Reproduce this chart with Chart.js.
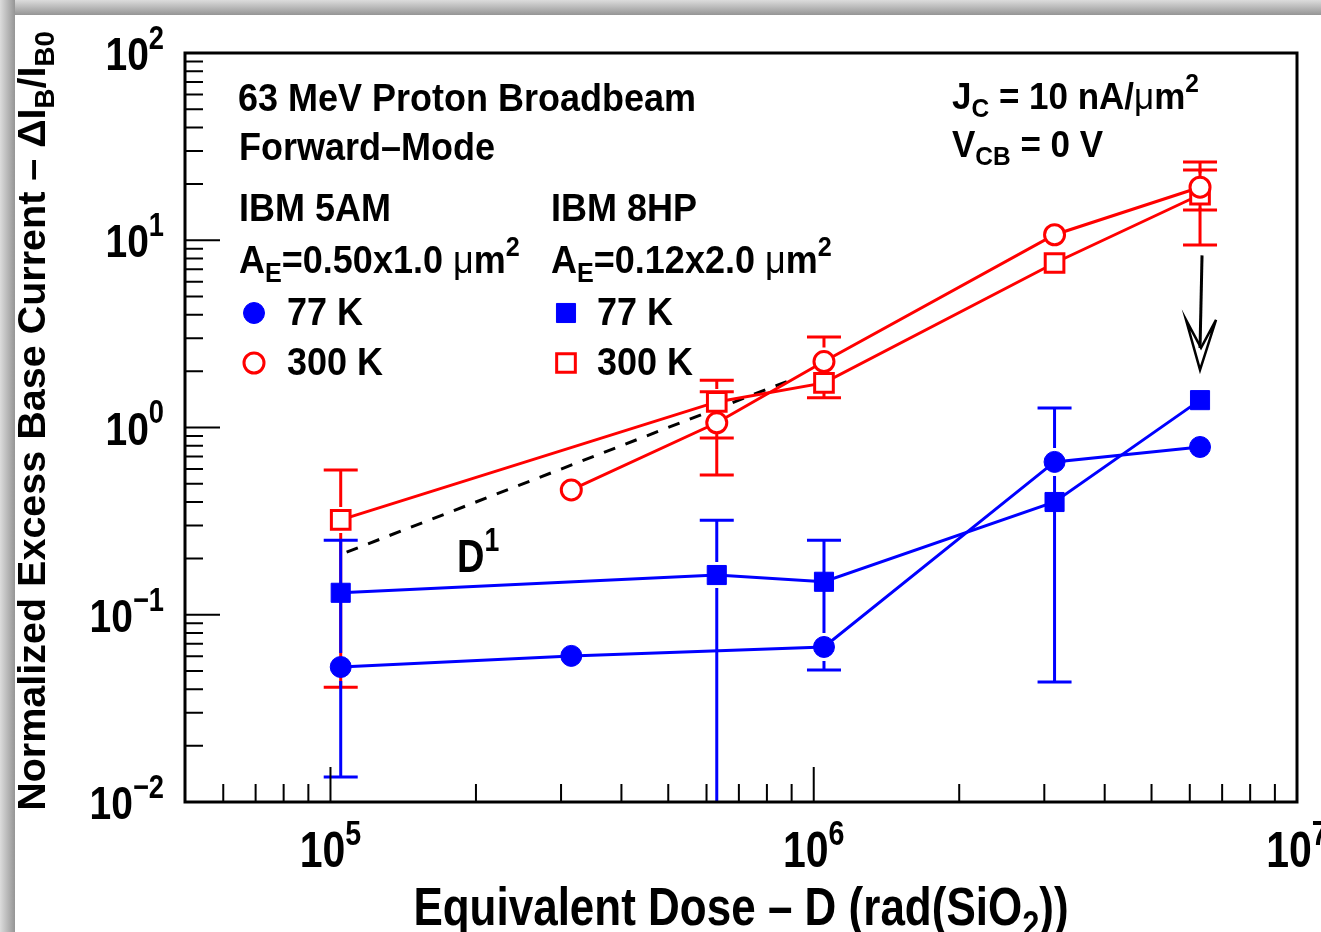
<!DOCTYPE html>
<html><head><meta charset="utf-8">
<script src="https://cdn.jsdelivr.net/npm/chart.js@4.4.0/dist/chart.umd.min.js"></script>
<style>html,body{margin:0;padding:0;background:#fff;overflow:hidden}canvas{display:block}</style>
</head><body>
<canvas id="c" width="1321" height="932"></canvas>
<script>
// ---------- data ----------
const doses5AM_77K  = [1.05e5, 3.15e5, 1.05e6, 3.15e6, 6.3e6];
const values5AM_77K = [0.0526, 0.0603, 0.0673, 0.655, 0.787];
const errLo5AM_77K  = [0.0136, null, 0.0507, 0.0437, null];
const errHi5AM_77K  = [0.25,   null, 0.25,   1.27,   null];

const doses5AM_300K  = [3.15e5, 6.3e5, 1.05e6, 3.15e6, 6.3e6];
const values5AM_300K = [0.464, 1.06, 2.25, 10.7, 19.2];
const errLo5AM_300K  = [null, 0.557, 1.44, null, 9.43];
const errHi5AM_300K  = [null, 1.55,  3.04, null, 26.2];

const doses8HP_77K  = [1.05e5, 6.3e5, 1.05e6, 3.15e6, 6.3e6];
const values8HP_77K = [0.131, 0.163, 0.150, 0.40, 1.40];
const errLo8HP_77K  = [null, 0.001, null, null, null];
const errHi8HP_77K  = [null, 0.32,  null, null, null];

const doses8HP_300K  = [1.05e5, 6.3e5, 1.05e6, 3.15e6, 6.3e6];
const values8HP_300K = [0.321, 1.37, 1.73, 7.56, 17.5];
const errLo8HP_300K  = [0.041, 0.879, null, null, 14.5];
const errHi8HP_300K  = [0.593, 1.79,  null, null, 23.7];

const guideDoses  = [1.08e5, 9.2e5];   // D^1 guide line
const guideValues = [0.216, 1.84];

const arrowDose = 6.3e6, arrowFrom = 8.3, arrowTo = 2.03;

const xMajorTicks = [1e5, 1e6, 1e7];
const xTickExp = ['5', '6', '7'];
const yMajorTicks = [1e-2, 1e-1, 1e0, 1e1, 1e2];
const yTickExp = ['\u22122', '\u22121', '0', '1', '2'];

// ---------- helpers ----------
const FONT = '"Liberation Sans", Arial, Helvetica, sans-serif';
const BLUE = '#0000ff', RED = '#ff0000';
function fontFor(k, size) {
  const s = (k === 'sub' || k === 'sup') ? size * 0.7 : size;
  const w = k === 'mu' ? 'normal' : 'bold';
  return w + ' ' + s + 'px ' + FONT;
}
function richWidth(ctx, parts, size) {
  let w = 0;
  for (const [t, k] of parts) { ctx.font = fontFor(k, size); w += ctx.measureText(t).width; }
  return w;
}
function drawRich(ctx, parts, x, y, size, align, sy, rot) {
  ctx.save();
  ctx.translate(x, y);
  if (rot) ctx.rotate(rot);
  ctx.scale(1, sy || 1);
  ctx.fillStyle = '#000';
  ctx.textAlign = 'left';
  ctx.textBaseline = 'alphabetic';
  const w = richWidth(ctx, parts, size);
  let cx = align === 'center' ? -w / 2 : (align === 'right' ? -w : 0);
  for (const [t, k] of parts) {
    ctx.font = fontFor(k, size);
    const dy = k === 'sub' ? size * 0.22 : (k === 'sup' ? -size * 0.45 : 0);
    ctx.fillText(t, cx, dy);
    cx += ctx.measureText(t).width;
  }
  ctx.restore();
}
function pts(xs, ys) { return xs.map((x, i) => ({ x: x, y: ys[i] })); }

const errorSets = [
  { xs: doses8HP_300K, ys: values8HP_300K, lo: errLo8HP_300K, hi: errHi8HP_300K, color: RED, gap: 13 },
  { xs: doses5AM_300K, ys: values5AM_300K, lo: errLo5AM_300K, hi: errHi5AM_300K, color: RED, gap: 14 },
  { xs: doses8HP_77K,  ys: values8HP_77K,  lo: errLo8HP_77K,  hi: errHi8HP_77K,  color: BLUE, gap: 13 },
  { xs: doses5AM_77K,  ys: values5AM_77K,  lo: errLo5AM_77K,  hi: errHi5AM_77K,  color: BLUE, gap: 14 }
];

const decor = {
  id: 'decor',
  beforeDraw(chart) {
    const ctx = chart.ctx;
    ctx.save();
    let g = ctx.createLinearGradient(0, 0, 0, 15);
    g.addColorStop(0, '#dcdcdc'); g.addColorStop(1, '#959595');
    ctx.fillStyle = g; ctx.fillRect(0, 0, 1321, 15);
    g = ctx.createLinearGradient(0, 0, 15, 0);
    g.addColorStop(0, '#dcdcdc'); g.addColorStop(1, '#959595');
    ctx.fillStyle = g; ctx.fillRect(0, 0, 15, 932);
    ctx.restore();
  },
  beforeDatasetsDraw(chart) {
    const ctx = chart.ctx, a = chart.chartArea;
    const X = chart.scales.x, Y = chart.scales.y;
    ctx.save();
    ctx.beginPath(); ctx.rect(a.left, a.top, a.right - a.left, a.bottom - a.top); ctx.clip();
    ctx.lineWidth = 3;
    for (const s of errorSets) {
      ctx.strokeStyle = s.color;
      s.xs.forEach((xv, i) => {
        const px = X.getPixelForValue(xv), py = Y.getPixelForValue(s.ys[i]);
        ctx.beginPath();
        if (s.hi[i] != null) {
          const ph = Y.getPixelForValue(s.hi[i]);
          ctx.moveTo(px, py - s.gap); ctx.lineTo(px, ph);
          ctx.moveTo(px - 17, ph); ctx.lineTo(px + 17, ph);
        }
        if (s.lo[i] != null) {
          const pl = Y.getPixelForValue(s.lo[i]);
          ctx.moveTo(px, py + s.gap); ctx.lineTo(px, pl);
          ctx.moveTo(px - 17, pl); ctx.lineTo(px + 17, pl);
        }
        ctx.stroke();
      });
    }
    ctx.restore();
  },
  afterDatasetsDraw(chart) {
    const ctx = chart.ctx, a = chart.chartArea;
    const X = chart.scales.x, Y = chart.scales.y;
    ctx.save();
    // frame
    ctx.strokeStyle = '#000'; ctx.lineWidth = 3;
    ctx.strokeRect(a.left, a.top, a.right - a.left, a.bottom - a.top);
    // ticks
    ctx.lineWidth = 2;
    ctx.beginPath();
    for (let e = 4; e <= 6; e++) {
      for (let m = 1; m <= 9; m++) {
        const v = m * Math.pow(10, e);
        if (v < X.min || v > X.max) continue;
        const px = X.getPixelForValue(v);
        const len = m === 1 ? 35 : 18;
        ctx.moveTo(px, a.bottom); ctx.lineTo(px, a.bottom - len);
      }
    }
    for (let e = -2; e <= 1; e++) {
      for (let m = 1; m <= 9; m++) {
        const v = m * Math.pow(10, e);
        const py = Y.getPixelForValue(v);
        const len = m === 1 ? 35 : 18;
        ctx.moveTo(a.left, py); ctx.lineTo(a.left + len, py);
      }
    }
    ctx.stroke();
    // arrow
    const ax = X.getPixelForValue(arrowDose);
    const ay1 = Y.getPixelForValue(arrowFrom), ay2 = Y.getPixelForValue(arrowTo);
    ctx.lineWidth = 3;
    ctx.beginPath(); ctx.moveTo(ax + 2, ay1); ctx.lineTo(ax, ay2 - 22); ctx.stroke();
    ctx.lineWidth = 2.5;
    ctx.beginPath();
    ctx.moveTo(ax, ay2); ctx.lineTo(ax - 14, ay2 - 50); ctx.lineTo(ax + 1, ay2 - 22);
    ctx.lineTo(ax + 16, ay2 - 50); ctx.closePath(); ctx.stroke();
    ctx.restore();

    // tick labels
    xMajorTicks.forEach((v, i) => {
      drawRich(ctx, [['10', ''], [xTickExp[i], 'sup']], X.getPixelForValue(v), 867, 41, 'center', 1.2);
    });
    yMajorTicks.forEach((v, i) => {
      drawRich(ctx, [['10', ''], [yTickExp[i], 'sup']], 164, Y.getPixelForValue(v) + 17, 39, 'right', 1.2);
    });
    // axis titles
    drawRich(ctx, [['Equivalent Dose \u2013 D (rad(SiO', ''], ['2', 'sub'], ['))', '']], 741, 925, 44, 'center', 1.2);
    drawRich(ctx, [['Normalized Excess Base Current \u2013 \u0394I', ''], ['B', 'sub'], ['/I', ''], ['B0', 'sub']],
      45, 421, 39.5, 'center', 1, -Math.PI / 2);

    // annotations
    const S = 36, K = 1.08;
    drawRich(ctx, [['63 MeV Proton Broadbeam', '']], 238, 111, S, 'left', K);
    drawRich(ctx, [['Forward\u2013Mode', '']], 239, 160, S, 'left', K);
    drawRich(ctx, [['IBM 5AM', '']], 239, 221, S, 'left', K);
    drawRich(ctx, [['IBM 8HP', '']], 551, 221, S, 'left', K);
    drawRich(ctx, [['A', ''], ['E', 'sub'], ['=0.50x1.0 ', ''], ['\u03bc', 'mu'], ['m', ''], ['2', 'sup']], 239, 273, S, 'left', K);
    drawRich(ctx, [['A', ''], ['E', 'sub'], ['=0.12x2.0 ', ''], ['\u03bc', 'mu'], ['m', ''], ['2', 'sup']], 551, 273, S, 'left', K);
    drawRich(ctx, [['77 K', '']], 287, 325, S, 'left', K);
    drawRich(ctx, [['300 K', '']], 287, 375, S, 'left', K);
    drawRich(ctx, [['77 K', '']], 597, 325, S, 'left', K);
    drawRich(ctx, [['300 K', '']], 597, 375, S, 'left', K);
    drawRich(ctx, [['J', ''], ['C', 'sub'], [' = 10 nA/', ''], ['\u03bc', 'mu'], ['m', ''], ['2', 'sup']], 952, 109, 35, 'left', K);
    drawRich(ctx, [['V', ''], ['CB', 'sub'], [' = 0 V', '']], 952, 157, 35, 'left', K);
    drawRich(ctx, [['D', ''], ['1', 'sup']], 457, 572, 38, 'left', 1.22);

    // legend markers
    const H = Chart.helpers;
    ctx.save();
    const mk = (style, r, bw, stroke, fill, x, y) => {
      ctx.strokeStyle = stroke; ctx.fillStyle = fill; ctx.lineWidth = bw;
      H.drawPoint(ctx, { pointStyle: style, radius: r, borderWidth: bw, rotation: 0 }, x, y);
    };
    mk('circle', 10.5, 1, BLUE, BLUE, 254, 313);
    mk('circle', 10, 3, RED, '#fff', 254, 363);
    mk('rect', 13.5, 1, BLUE, BLUE, 566, 313);
    mk('rect', 13.2, 3, RED, '#fff', 566, 363);
    ctx.restore();
  }
};

new Chart(document.getElementById('c'), {
  type: 'scatter',
  data: {
    datasets: [
      { label: 'IBM 8HP 77 K', data: pts(doses8HP_77K, values8HP_77K), showLine: true,
        borderColor: BLUE, backgroundColor: BLUE, borderWidth: 3,
        pointStyle: 'rect', pointRadius: 13.5, pointBorderWidth: 1, pointBackgroundColor: BLUE, pointBorderColor: BLUE },
      { label: 'IBM 5AM 77 K', data: pts(doses5AM_77K, values5AM_77K), showLine: true,
        borderColor: BLUE, backgroundColor: BLUE, borderWidth: 3,
        pointStyle: 'circle', pointRadius: 10.5, pointBorderWidth: 1, pointBackgroundColor: BLUE, pointBorderColor: BLUE },
      { label: 'IBM 5AM 300 K', data: pts(doses5AM_300K, values5AM_300K), showLine: true,
        borderColor: RED, backgroundColor: RED, borderWidth: 3,
        pointStyle: 'circle', pointRadius: 10, pointBorderWidth: 3, pointBackgroundColor: '#fff', pointBorderColor: RED },
      { label: 'IBM 8HP 300 K', data: pts(doses8HP_300K, values8HP_300K), showLine: true,
        borderColor: RED, backgroundColor: RED, borderWidth: 3,
        pointStyle: 'rect', pointRadius: 13.2, pointBorderWidth: 3, pointBackgroundColor: '#fff', pointBorderColor: RED },
      { label: 'D^1', data: pts(guideDoses, guideValues), showLine: true,
        borderColor: '#000', borderWidth: 3, borderDash: [12, 11], pointRadius: 0 }
    ]
  },
  options: {
    responsive: false,
    devicePixelRatio: 1,
    animation: false,
    events: [],
    layout: { padding: { left: 185, right: 24, top: 53, bottom: 130 } },
    scales: {
      x: { type: 'logarithmic', min: 5e4, max: 1e7, display: false },
      y: { type: 'logarithmic', min: 1e-2, max: 1e2, display: false }
    },
    plugins: { legend: { display: false }, tooltip: { enabled: false } },
    elements: { line: { tension: 0 } }
  },
  plugins: [decor]
});
</script>
</body></html>
